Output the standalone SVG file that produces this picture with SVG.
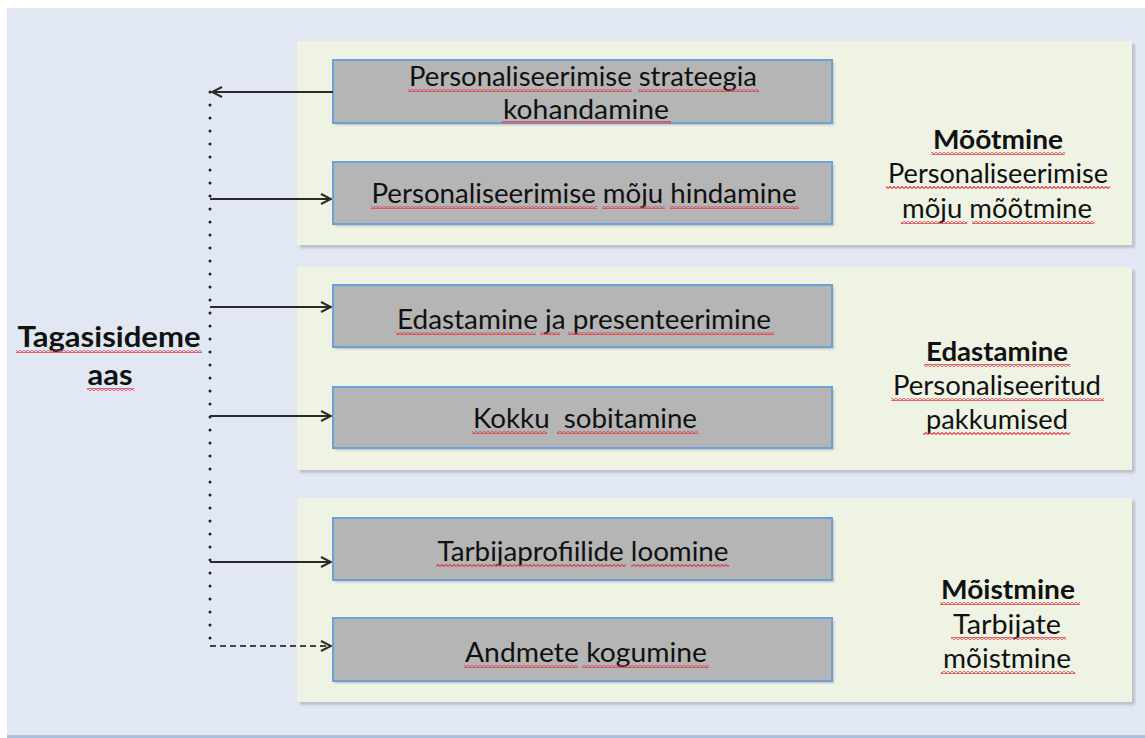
<svg xmlns="http://www.w3.org/2000/svg" width="1145" height="738" viewBox="0 0 1145 738">
<style>
.bg{fill:#e1e8f3}
.panel{fill:#eef3e4}
.pshadow{fill:#9ea4a8;opacity:.55}
.box{fill:#b5b5b5;stroke:#6d9fd8;stroke-width:2}
.bshadow{fill:#7a7f85;opacity:.45}
.t{font-family:Lato,"Open Sans","Liberation Sans",sans-serif;font-size:27px;fill:#111;text-anchor:middle}
.b{font-weight:bold}
.sq{fill:url(#squiggle)}
.conn{stroke:#2a2a2a;stroke-width:1.8;fill:none}
.dot{stroke:#222;stroke-width:3;stroke-linecap:round;stroke-dasharray:0 13;fill:none}
.dash{stroke:#444;stroke-width:1.8;stroke-dasharray:6 4;fill:none}
</style>
<defs>
<marker id="ah" viewBox="0 0 12 12" refX="11" refY="6" markerWidth="12" markerHeight="12" markerUnits="userSpaceOnUse" orient="auto">
<path d="M1,1 L11,6 L1,11" fill="none" stroke="#2a2a2a" stroke-width="2"/>
</marker>
<pattern id="squiggle" width="4" height="3" patternUnits="userSpaceOnUse">
<path d="M0,2.5 L2,0.5 L4,2.5" fill="none" stroke="#e0404c" stroke-width="1.1"/>
</pattern>
<filter id="blur" x="-5%" y="-5%" width="110%" height="120%"><feGaussianBlur stdDeviation="1.2"/></filter>
</defs>

<rect class="bg" x="7" y="8" width="1138" height="729"/>
<rect x="7" y="735" width="1138" height="3" fill="#a9c1dc"/>

<g id="panel-mootmine">
<rect class="pshadow" x="300" y="44" width="835" height="204" filter="url(#blur)"/>
<rect class="panel" x="297" y="41" width="835" height="204"/>
<text class="t b" x="998" y="149" textLength="130" lengthAdjust="spacingAndGlyphs">Mõõtmine</text>
<text class="t" x="998" y="183" textLength="220" lengthAdjust="spacingAndGlyphs">Personaliseerimise</text>
<text class="t" x="997" y="218" textLength="190" lengthAdjust="spacingAndGlyphs">mõju mõõtmine</text>
<rect class="sq" x="931" y="152" width="134" height="3"/>
<rect class="sq" x="886" y="186" width="224" height="3"/>
<rect class="sq" x="901" y="221" width="66" height="3"/>
<rect class="sq" x="972" y="221" width="122" height="3"/>
</g>
<g id="panel-edastamine">
<rect class="pshadow" x="300" y="270" width="835" height="203" filter="url(#blur)"/>
<rect class="panel" x="297" y="267" width="835" height="203"/>
<text class="t b" x="997" y="361" textLength="142" lengthAdjust="spacingAndGlyphs">Edastamine</text>
<text class="t" x="997" y="395" textLength="208" lengthAdjust="spacingAndGlyphs">Personaliseeritud</text>
<text class="t" x="997" y="429" textLength="142" lengthAdjust="spacingAndGlyphs">pakkumised</text>
<rect class="sq" x="924" y="364" width="146" height="3"/>
<rect class="sq" x="891" y="398" width="213" height="3"/>
<rect class="sq" x="923" y="432" width="147" height="3"/>
</g>
<g id="panel-moistmine">
<rect class="pshadow" x="300" y="501" width="835" height="204" filter="url(#blur)"/>
<rect class="panel" x="297" y="498" width="835" height="204"/>
<text class="t b" x="1008" y="599" textLength="134" lengthAdjust="spacingAndGlyphs">Mõistmine</text>
<text class="t" x="1007" y="634" textLength="108" lengthAdjust="spacingAndGlyphs">Tarbijate</text>
<text class="t" x="1007" y="668" textLength="128" lengthAdjust="spacingAndGlyphs">mõistmine</text>
<rect class="sq" x="940" y="602" width="140" height="3"/>
<rect class="sq" x="951" y="637" width="115" height="3"/>
<rect class="sq" x="941" y="671" width="134" height="3"/>
</g>

<g id="box1">
<rect class="bshadow" x="335" y="62" width="499" height="63" filter="url(#blur)"/>
<rect class="box" x="333" y="60" width="499" height="63"/>
<text class="t" x="583" y="86" textLength="348" lengthAdjust="spacingAndGlyphs">Personaliseerimise strateegia</text>
<text class="t" x="586" y="119" textLength="166" lengthAdjust="spacingAndGlyphs">kohandamine</text>
<rect class="sq" x="408" y="89" width="224" height="3"/>
<rect class="sq" x="638" y="89" width="121" height="3"/>
<rect class="sq" x="502" y="121" width="169" height="3"/>
</g>
<g id="box2">
<rect class="bshadow" x="335" y="164" width="499" height="62" filter="url(#blur)"/>
<rect class="box" x="333" y="162" width="499" height="62"/>
<text class="t" x="584" y="203" textLength="425" lengthAdjust="spacingAndGlyphs">Personaliseerimise mõju hindamine</text>
<rect class="sq" x="371" y="206" width="226" height="3"/>
<rect class="sq" x="602" y="206" width="63" height="3"/>
<rect class="sq" x="670" y="206" width="129" height="3"/>
</g>
<g id="box3">
<rect class="bshadow" x="335" y="287" width="499" height="62" filter="url(#blur)"/>
<rect class="box" x="333" y="285" width="499" height="62"/>
<text class="t" x="584" y="329" textLength="374" lengthAdjust="spacingAndGlyphs">Edastamine ja presenteerimine</text>
<rect class="sq" x="396" y="332" width="140" height="3"/>
<rect class="sq" x="540" y="332" width="20" height="3"/>
<rect class="sq" x="568" y="332" width="206" height="3"/>
</g>
<g id="box4">
<rect class="bshadow" x="335" y="389" width="499" height="61" filter="url(#blur)"/>
<rect class="box" x="333" y="387" width="499" height="61"/>
<text class="t" x="585" y="428" textLength="224" lengthAdjust="spacingAndGlyphs" xml:space="preserve">Kokku  sobitamine</text>
<rect class="sq" x="472" y="431" width="75" height="3"/>
<rect class="sq" x="557" y="431" width="141" height="3"/>
</g>
<g id="box5">
<rect class="bshadow" x="335" y="520" width="499" height="62" filter="url(#blur)"/>
<rect class="box" x="333" y="518" width="499" height="62"/>
<text class="t" x="583" y="561" textLength="291" lengthAdjust="spacingAndGlyphs">Tarbijaprofiilide loomine</text>
<rect class="sq" x="436" y="564" width="190" height="3"/>
<rect class="sq" x="631" y="564" width="98" height="3"/>
</g>
<g id="box6">
<rect class="bshadow" x="335" y="620" width="499" height="63" filter="url(#blur)"/>
<rect class="box" x="333" y="618" width="499" height="63"/>
<text class="t" x="586" y="662" textLength="242" lengthAdjust="spacingAndGlyphs">Andmete kogumine</text>
<rect class="sq" x="464" y="665" width="114" height="3"/>
<rect class="sq" x="582" y="665" width="127" height="3"/>
</g>

<g id="feedback-label">
<text class="t b" x="109" y="347" style="font-size:28px" textLength="183" lengthAdjust="spacingAndGlyphs">Tagasisideme</text>
<text class="t b" x="110" y="385" style="font-size:28px" textLength="45" lengthAdjust="spacingAndGlyphs">aas</text>
<rect class="sq" x="16" y="350" width="186" height="3"/>
<rect class="sq" x="87" y="388" width="47" height="3"/>
</g>

<g id="connectors">
<path class="dot" d="M210,92 L210,642"/>
<path class="conn" d="M333,92 L212,92" marker-end="url(#ah)"/>
<path class="conn" d="M210,199 L331,199" marker-end="url(#ah)"/>
<path class="conn" d="M210,307 L331,307" marker-end="url(#ah)"/>
<path class="conn" d="M210,416 L331,416" marker-end="url(#ah)"/>
<path class="conn" d="M210,562 L331,562" marker-end="url(#ah)"/>
<path class="dash" d="M210,646 L331,646" marker-end="url(#ah)"/>
</g>
</svg>
